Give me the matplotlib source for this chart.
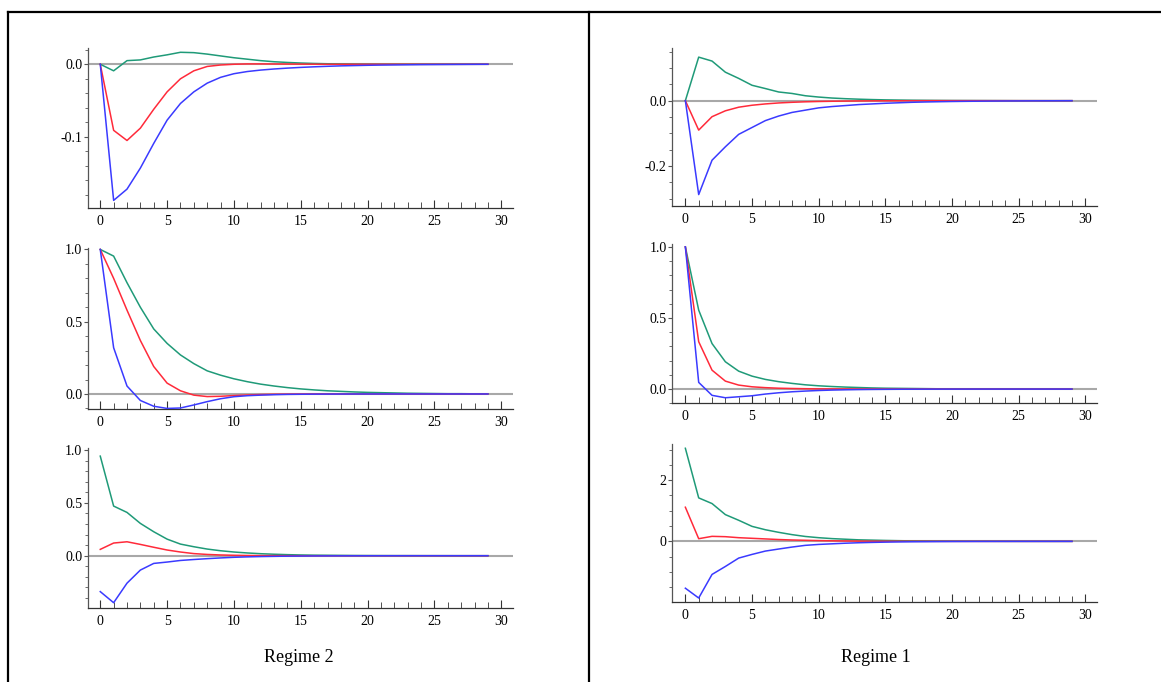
import matplotlib
matplotlib.use('Agg')
import matplotlib.pyplot as plt
from matplotlib.lines import Line2D
from matplotlib.ticker import MultipleLocator, FormatStrFormatter

plt.rcParams['font.family'] = ['Liberation Serif', 'DejaVu Serif']
plt.rcParams['axes.unicode_minus'] = False

# ===== 脉冲响应数据 (h = 0..29) =====
horizon = list(range(30))

# Regime 2 - 上
r2_top_green = [0, -0.009, 0.005, 0.006, 0.010, 0.013, 0.0165, 0.016, 0.014, 0.0115,
                0.009, 0.007, 0.005, 0.0035, 0.0025, 0.0017, 0.0011, 0.0007, 0.0004, 0.0002,
                0.0001, 0, 0, 0, 0, 0, 0, 0, 0, 0]
r2_top_red = [0, -0.091, -0.105, -0.088, -0.062, -0.038, -0.020, -0.009, -0.003, -0.001,
              0.0, 0.0005, 0.0005, 0.0004, 0.0003, 0.0002, 0.0001, 0, 0, 0,
              0, 0, 0, 0, 0, 0, 0, 0, 0, 0]
r2_top_blue = [0, -0.1875, -0.172, -0.143, -0.109, -0.077, -0.054, -0.038, -0.026, -0.018,
               -0.013, -0.010, -0.008, -0.0065, -0.0053, -0.0043, -0.0035, -0.0028, -0.0022, -0.0018,
               -0.0014, -0.0011, -0.0009, -0.0007, -0.0005, -0.0004, -0.0003, -0.0002, -0.0001, 0]

# Regime 2 - 中
r2_mid_green = [1.0, 0.954, 0.77, 0.60, 0.45, 0.35, 0.27, 0.21, 0.16, 0.13,
                0.105, 0.085, 0.068, 0.055, 0.044, 0.035, 0.028, 0.022, 0.018, 0.014,
                0.011, 0.009, 0.007, 0.005, 0.004, 0.003, 0.002, 0.002, 0.001, 0.001]
r2_mid_red = [1.0, 0.80, 0.58, 0.37, 0.19, 0.075, 0.022, -0.008, -0.018, -0.016,
              -0.011, -0.007, -0.004, -0.002, -0.001, -0.0005, 0, 0, 0, 0,
              0, 0, 0, 0, 0, 0, 0, 0, 0, 0]
r2_mid_blue = [1.0, 0.32, 0.055, -0.045, -0.085, -0.10, -0.097, -0.076, -0.053, -0.033,
               -0.019, -0.012, -0.008, -0.005, -0.003, -0.002, -0.0012, -0.0008, -0.0005, -0.0003,
               -0.0002, -0.0001, 0, 0, 0, 0, 0, 0, 0, 0]

# Regime 2 - 下
r2_bot_green = [0.943, 0.47, 0.41, 0.306, 0.227, 0.157, 0.11, 0.085, 0.063, 0.047,
                0.035, 0.026, 0.019, 0.014, 0.010, 0.007, 0.005, 0.004, 0.003, 0.002,
                0.0015, 0.001, 0.0007, 0.0005, 0.0003, 0.0002, 0.0001, 0, 0, 0]
r2_bot_red = [0.06, 0.12, 0.132, 0.107, 0.08, 0.054, 0.035, 0.02, 0.012, 0.007,
              0.004, 0.002, 0.001, 0.0005, 0.0002, 0, 0, 0, 0, 0,
              0, 0, 0, 0, 0, 0, 0, 0, 0, 0]
r2_bot_blue = [-0.34, -0.445, -0.26, -0.136, -0.073, -0.06, -0.045, -0.036, -0.028, -0.021,
               -0.015, -0.011, -0.008, -0.006, -0.004, -0.003, -0.002, -0.0015, -0.001, -0.0007,
               -0.0005, -0.0003, -0.0002, -0.0001, 0, 0, 0, 0, 0, 0]

# Regime 1 - 上
r1_top_green = [0, 0.133, 0.121, 0.087, 0.068, 0.047, 0.037, 0.0265, 0.022, 0.015,
                0.011, 0.008, 0.006, 0.0045, 0.0033, 0.0024, 0.0018, 0.0013, 0.001, 0.0007,
                0.0005, 0.0004, 0.0003, 0.0002, 0.0001, 0, 0, 0, 0, 0]
r1_top_red = [0, -0.09, -0.049, -0.031, -0.02, -0.014, -0.010, -0.007, -0.005, -0.0035,
              -0.0025, -0.0018, -0.0013, -0.0009, -0.0006, -0.0004, -0.0003, -0.0002, -0.0001, 0,
              0, 0, 0, 0, 0, 0, 0, 0, 0, 0]
r1_top_blue = [0, -0.287, -0.182, -0.141, -0.103, -0.082, -0.061, -0.047, -0.036, -0.029,
               -0.022, -0.018, -0.015, -0.012, -0.010, -0.008, -0.0065, -0.005, -0.004, -0.0032,
               -0.0025, -0.002, -0.0016, -0.0012, -0.0009, -0.0007, -0.0005, -0.0004, -0.0003, -0.0002]

# Regime 1 - 中
r1_mid_green = [1.0, 0.555, 0.32, 0.192, 0.126, 0.091, 0.068, 0.052, 0.040, 0.030,
                0.023, 0.018, 0.014, 0.011, 0.008, 0.006, 0.005, 0.004, 0.003, 0.002,
                0.0015, 0.001, 0.0007, 0.0005, 0.0003, 0.0002, 0.0001, 0, 0, 0]
r1_mid_red = [1.0, 0.333, 0.133, 0.056, 0.028, 0.016, 0.010, 0.006, 0.004, 0.0025,
              0.0015, 0.001, 0.0006, 0.0003, 0.0001, 0, 0, 0, 0, 0,
              0, 0, 0, 0, 0, 0, 0, 0, 0, 0]
r1_mid_blue = [1.0, 0.047, -0.044, -0.061, -0.054, -0.047, -0.035, -0.026, -0.019, -0.014,
               -0.010, -0.007, -0.005, -0.0035, -0.0025, -0.0018, -0.0012, -0.0008, -0.0005, -0.0003,
               -0.0002, -0.0001, 0, 0, 0, 0, 0, 0, 0, 0]

# Regime 1 - 下
r1_bot_green = [3.04, 1.42, 1.235, 0.874, 0.689, 0.49, 0.38, 0.295, 0.22, 0.16,
                0.12, 0.09, 0.07, 0.05, 0.04, 0.03, 0.022, 0.016, 0.012, 0.009,
                0.007, 0.005, 0.004, 0.003, 0.002, 0.0015, 0.001, 0.0007, 0.0004, 0.0002]
r1_bot_red = [1.115, 0.087, 0.164, 0.153, 0.12, 0.10, 0.08, 0.06, 0.045, 0.035,
              0.025, 0.018, 0.013, 0.009, 0.006, 0.004, 0.003, 0.002, 0.0015, 0.001,
              0.0007, 0.0005, 0.0003, 0.0002, 0.0001, 0, 0, 0, 0, 0]
r1_bot_blue = [-1.53, -1.85, -1.08, -0.82, -0.546, -0.426, -0.317, -0.25, -0.186, -0.13,
               -0.10, -0.08, -0.06, -0.045, -0.034, -0.025, -0.018, -0.013, -0.01, -0.007,
               -0.005, -0.004, -0.003, -0.002, -0.0015, -0.001, -0.0007, -0.0004, -0.0002, 0]

captions = ['Regime 2', 'Regime 1']

GREEN = '#1f9a78'
RED = '#ff2a3a'
BLUE = '#3a3aff'

W, H = 1161, 682
fig = plt.figure(figsize=(W / 100, H / 100), dpi=100)


def px_axes(x0, x1, ytop, ybot):
    return fig.add_axes([x0 / W, 1 - ybot / H, (x1 - x0) / W, (ybot - ytop) / H])


def draw_panel(ax, g, r, b, xlim, ylim, major, minor, fmt):
    ax.axhline(0, color='#a8a8a8', lw=1.5, zorder=1)
    ax.plot(horizon, g, color=GREEN, lw=1.1, zorder=2)
    ax.plot(horizon, r, color=RED, lw=1.1, zorder=3)
    ax.plot(horizon, b, color=BLUE, lw=1.1, zorder=4)
    ax.set_xlim(*xlim)
    ax.set_ylim(*ylim)
    for s in ['top', 'right']:
        ax.spines[s].set_visible(False)
    ax.spines['left'].set_color('#555555')
    ax.spines['bottom'].set_color('#333333')
    ax.spines['left'].set_linewidth(0.9)
    ax.spines['bottom'].set_linewidth(0.9)
    ax.xaxis.set_major_locator(MultipleLocator(5))
    ax.xaxis.set_minor_locator(MultipleLocator(1))
    ax.yaxis.set_major_locator(MultipleLocator(major))
    ax.yaxis.set_minor_locator(MultipleLocator(minor))
    ax.yaxis.set_major_formatter(FormatStrFormatter(fmt))
    ax.tick_params(axis='x', which='major', direction='in', length=6, width=0.8,
                   color='#333333', labelsize=10, pad=5)
    ax.tick_params(axis='x', which='minor', direction='in', length=4, width=0.6, color='#333333')
    ax.tick_params(axis='y', which='major', direction='out', length=3, width=0.8,
                   color='#555555', labelsize=10, pad=1)
    ax.tick_params(axis='y', which='minor', direction='out', length=2, width=0.6, color='#555555')
    ax.set_facecolor('none')


# 左列 Regime 2
ax1 = px_axes(87.7, 513.3, 48.3, 208)
draw_panel(ax1, r2_top_green, r2_top_red, r2_top_blue, (-0.94, 30.9), (-0.198, 0.022), 0.1, 0.02, '%.1f')
ax2 = px_axes(87.7, 513.3, 248, 409)
draw_panel(ax2, r2_mid_green, r2_mid_red, r2_mid_blue, (-0.94, 30.9), (-0.104, 1.01), 0.5, 0.1, '%.1f')
ax3 = px_axes(87.7, 513.3, 448, 608.3)
draw_panel(ax3, r2_bot_green, r2_bot_red, r2_bot_blue, (-0.94, 30.9), (-0.498, 1.02), 0.5, 0.1, '%.1f')

# 右列 Regime 1
ax4 = px_axes(672.3, 1097.3, 48.3, 205.7)
draw_panel(ax4, r1_top_green, r1_top_red, r1_top_blue, (-0.98, 30.9), (-0.321, 0.16), 0.2, 0.05, '%.1f')
ax5 = px_axes(672.3, 1097.3, 244, 403.3)
draw_panel(ax5, r1_mid_green, r1_mid_red, r1_mid_blue, (-0.98, 30.9), (-0.10, 1.02), 0.5, 0.1, '%.1f')
ax6 = px_axes(672.3, 1097.3, 444, 602.3)
draw_panel(ax6, r1_bot_green, r1_bot_red, r1_bot_blue, (-0.98, 30.9), (-1.99, 3.18), 2, 0.5, '%d')

# 表格边框
lw = 1.6
fig.add_artist(Line2D([8 / W, 1.0], [1 - 12 / H, 1 - 12 / H], color='black', lw=lw))
fig.add_artist(Line2D([8 / W, 8 / W], [0, 1 - 12 / H], color='black', lw=lw))
fig.add_artist(Line2D([589 / W, 589 / W], [0, 1 - 12 / H], color='black', lw=lw))

fig.text(299 / W, 1 - 657 / H, captions[0], ha='center', va='center', fontsize=13)
fig.text(876 / W, 1 - 657 / H, captions[1], ha='center', va='center', fontsize=13)

plt.savefig('out.png', dpi=100)
